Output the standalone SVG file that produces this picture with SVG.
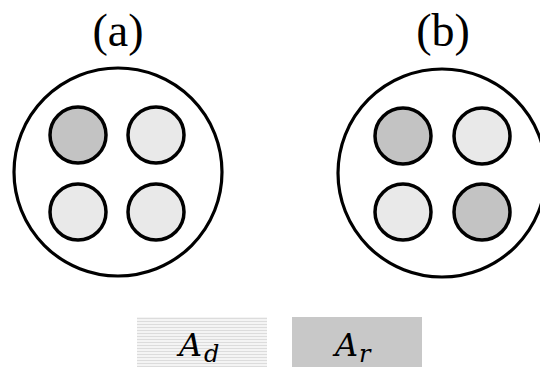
<svg xmlns="http://www.w3.org/2000/svg" width="540" height="367" viewBox="0 0 540 367">
<defs>
<pattern id="hatch" width="4" height="3" patternUnits="userSpaceOnUse">
<rect width="4" height="3" fill="#f4f4f4"/>
<rect y="0" width="4" height="1" fill="#dcdcdc"/>
</pattern>
<style>
.outer{fill:#fff;stroke:#000;stroke-width:3.2}
.light{fill:#e9e9e9;stroke:#000;stroke-width:3.5}
.dark{fill:#c3c3c3;stroke:#000;stroke-width:3.5}
.lbl{font-family:"Liberation Serif",serif;font-size:46px;fill:#000;text-anchor:middle}
.math{font-family:"DejaVu Serif",serif;font-style:italic;fill:#000}
</style>
</defs>
<rect width="540" height="367" fill="#fff"/>
<g id="panel-a">
<text class="lbl" x="118" y="46">(a)</text>
<circle class="outer" cx="118" cy="172" r="104"/>
<circle class="dark" cx="78" cy="135" r="28"/>
<circle class="light" cx="156" cy="135" r="28"/>
<circle class="light" cx="78" cy="212" r="28"/>
<circle class="light" cx="156" cy="212" r="28"/>
</g>
<g id="panel-b">
<text class="lbl" x="443" y="46">(b)</text>
<circle class="outer" cx="442" cy="173" r="104"/>
<circle class="dark" cx="403" cy="136" r="28"/>
<circle class="light" cx="482" cy="136" r="28"/>
<circle class="light" cx="403" cy="212" r="28"/>
<circle class="dark" cx="482" cy="212" r="28"/>
</g>
<g id="legend-ad">
<rect x="137" y="317" width="130" height="50" fill="url(#hatch)"/>
<text class="math" x="179" y="356" font-size="32">A</text>
<text class="math" x="204" y="362" font-size="24">d</text>
</g>
<g id="legend-ar">
<rect x="292" y="317" width="130" height="50" fill="#c8c8c8"/>
<text class="math" x="335" y="356" font-size="32">A</text>
<text class="math" x="359" y="362" font-size="24">r</text>
</g>
<g id="connectors"/>
</svg>
